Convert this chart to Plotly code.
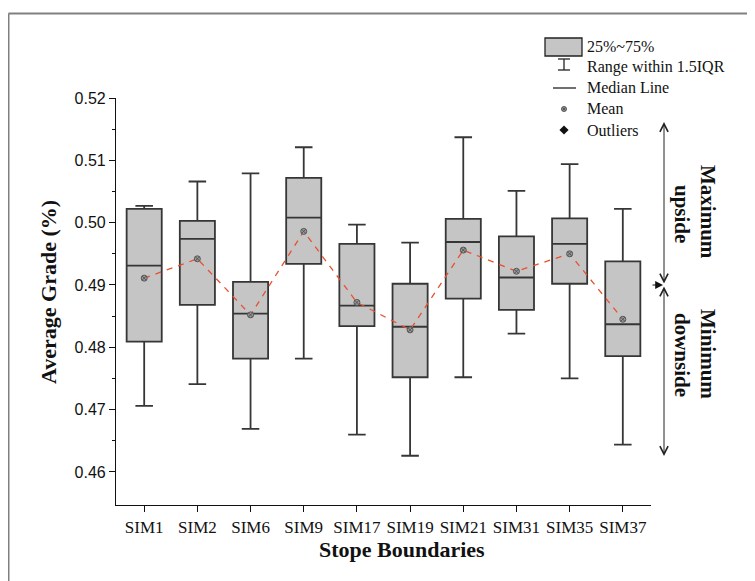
import plotly.graph_objects as go

categories = ["SIM1", "SIM2", "SIM6", "SIM9", "SIM17", "SIM19", "SIM21", "SIM31", "SIM35", "SIM37"]
upper_whisker = [0.5027, 0.5066, 0.5079, 0.5121, 0.4997, 0.4968, 0.5137, 0.5051, 0.5094, 0.5022]
q3_values = [0.5022, 0.5003, 0.4905, 0.5072, 0.4966, 0.4902, 0.5006, 0.4978, 0.5007, 0.4938]
median_values = [0.4931, 0.4974, 0.4854, 0.5008, 0.4867, 0.4833, 0.4969, 0.4912, 0.4966, 0.4837]
mean_values = [0.4911, 0.4942, 0.4852, 0.4986, 0.4872, 0.4828, 0.4956, 0.4922, 0.4950, 0.4845]
q1_values = [0.4809, 0.4868, 0.4782, 0.4934, 0.4834, 0.4752, 0.4878, 0.4860, 0.4902, 0.4786]
lower_whisker = [0.4706, 0.4741, 0.4669, 0.4782, 0.4660, 0.4626, 0.4752, 0.4822, 0.4750, 0.4644]
reference_grade = 0.49
y_ticks = [0.46, 0.47, 0.48, 0.49, 0.50, 0.51, 0.52]

# page offset (browser body margin) and plot area in screen pixels
OFF = 8
L, R, T, B = 116, 651, 98, 505
W, H = 755, 581


def px(x):
    return (x - L) / (R - L)


def py(y):
    return (B - y) / (B - T)


SERIF = "Liberation Serif, Times New Roman, serif"
SANS = "Liberation Sans, Arial, sans-serif"
BOXLINE = "#363636"
BOXFILL = "#c5c5c5"
INK = "#111111"

fig = go.Figure()

fig.add_trace(go.Box(
    x=categories, q1=q1_values, median=median_values, q3=q3_values,
    lowerfence=lower_whisker, upperfence=upper_whisker,
    fillcolor=BOXFILL, line=dict(color=BOXLINE, width=1.8),
    width=0.66, whiskerwidth=0.5, boxpoints=False, showlegend=False,
    hoverinfo="skip",
))

fig.add_trace(go.Scatter(
    x=categories, y=mean_values, mode="lines+markers",
    line=dict(color="#e8502e", width=1.3, dash="6px,6px"),
    marker=dict(symbol="circle-x", size=6, color="#9a9a9a",
                line=dict(color="#555555", width=1)),
    showlegend=False, hoverinfo="skip",
))

# reference line
fig.add_trace(go.Scatter(
    x=[-0.53, 9.53], y=[reference_grade, reference_grade], mode="lines",
    line=dict(color="#555555", width=1.1, dash="7px,5px"),
    showlegend=False, hoverinfo="skip",
))

shapes = []
annotations = []

# outer frame
shapes.append(dict(type="line", xref="paper", yref="paper",
                   x0=px(8.5), x1=px(W + 5), y0=py(13.5), y1=py(13.5),
                   line=dict(color="#808080", width=2)))
shapes.append(dict(type="line", xref="paper", yref="paper",
                   x0=px(8.5), x1=px(8.5), y0=py(13.5), y1=py(H + 5),
                   line=dict(color="#808080", width=2)))

# legend
LW = dict(color="#222222", width=1.3)
shapes.append(dict(type="rect", xref="paper", yref="paper",
                   x0=px(545), x1=px(582), y0=py(38), y1=py(56),
                   fillcolor=BOXFILL, line=LW))
shapes.append(dict(type="line", xref="paper", yref="paper",
                   x0=px(564), x1=px(564), y0=py(59), y1=py(70), line=LW))
shapes.append(dict(type="line", xref="paper", yref="paper",
                   x0=px(558), x1=px(570), y0=py(59), y1=py(59), line=LW))
shapes.append(dict(type="line", xref="paper", yref="paper",
                   x0=px(558), x1=px(570), y0=py(70), y1=py(70), line=LW))
shapes.append(dict(type="line", xref="paper", yref="paper",
                   x0=px(553), x1=px(576), y0=py(88), y1=py(88), line=LW))

fig.add_trace(go.Scatter(
    x=[px(564)], y=[py(109)], xaxis="x2", yaxis="y2", mode="markers",
    marker=dict(symbol="circle-x", size=5, color="#9a9a9a",
                line=dict(color="#555555", width=1)),
    showlegend=False, hoverinfo="skip"))
fig.add_trace(go.Scatter(
    x=[px(564)], y=[py(130)], xaxis="x2", yaxis="y2", mode="markers",
    marker=dict(symbol="diamond", size=7, color=INK),
    showlegend=False, hoverinfo="skip"))

legend_texts = [("25%~75%", 46), ("Range within 1.5IQR", 67), ("Median Line", 88),
                ("Mean", 109), ("Outliers", 130)]
for txt, yy in legend_texts:
    annotations.append(dict(xref="paper", yref="paper", x=px(585), y=py(yy),
                            text=txt, showarrow=False, xanchor="left", yanchor="middle",
                            font=dict(family=SERIF, size=16, color=INK)))

# arrows on the right
AX = 664
annotations.append(dict(xref="paper", yref="paper", x=px(AX), y=py(122),
                        ax=0, ay=285 - 122, text="", showarrow=True,
                        arrowhead=5, startarrowhead=5, arrowside="end+start",
                        arrowsize=1.6, arrowwidth=1, arrowcolor="#222222"))
annotations.append(dict(xref="paper", yref="paper", x=px(AX), y=py(456),
                        ax=0, ay=285 - 456, text="", showarrow=True,
                        arrowhead=5, startarrowhead=5, arrowside="end+start",
                        arrowsize=1.6, arrowwidth=1, arrowcolor="#222222"))
annotations.append(dict(xref="paper", yref="paper", x=px(AX - 1), y=py(285),
                        ax=-12, ay=0, text="", showarrow=True,
                        arrowhead=2, arrowsize=1.3, arrowwidth=1.2, arrowcolor=INK))

for txt, xx, yy in [("Maximum", 708, 212), ("upside", 682, 214),
                    ("Minimum", 708, 354), ("downside", 682, 355)]:
    annotations.append(dict(xref="paper", yref="paper", x=px(xx), y=py(yy),
                            text=f"<b>{txt}</b>", showarrow=False, textangle=90,
                            xanchor="center", yanchor="middle",
                            font=dict(family=SERIF, size=21, color=INK)))

# axis titles
annotations.append(dict(xref="paper", yref="paper", x=px(48), y=py(292),
                        text="<b>Average Grade (%)</b>", showarrow=False, textangle=-90,
                        xanchor="center", yanchor="middle",
                        font=dict(family=SERIF, size=22, color=INK)))
annotations.append(dict(xref="paper", yref="paper", x=px(402), y=py(549),
                        text="<b>Stope Boundaries</b>", showarrow=False,
                        xanchor="center", yanchor="middle",
                        font=dict(family=SERIF, size=22, color=INK)))

fig.update_layout(
    width=W - OFF, height=H - OFF,
    margin=dict(l=L - OFF, r=W - R, t=T - OFF, b=H - B, pad=0),
    paper_bgcolor="white", plot_bgcolor="white",
    showlegend=False,
    shapes=shapes, annotations=annotations,
    xaxis=dict(type="category", range=[-0.53, 9.53], showgrid=False, zeroline=False,
               showline=True, linecolor=INK, linewidth=1.2,
               ticks="outside", ticklen=6, tickwidth=1.2, tickcolor=INK,
               tickfont=dict(family=SERIF, size=17, color=INK)),
    yaxis=dict(range=[0.4547, 0.52], showgrid=False, zeroline=False,
               showline=True, linecolor=INK, linewidth=1.2,
               tickvals=y_ticks, ticktext=[f"{v:.2f}" for v in y_ticks],
               ticks="outside", ticklen=6, tickwidth=1.2, tickcolor=INK,
               minor=dict(ticks="outside", ticklen=3, tickwidth=1, tickcolor=INK,
                          tickvals=[0.465, 0.475, 0.485, 0.495, 0.505, 0.515]),
               tickfont=dict(family=SANS, size=16, color=INK)),
    xaxis2=dict(range=[0, 1], overlaying="x", visible=False, anchor="y2"),
    yaxis2=dict(range=[0, 1], overlaying="y", visible=False, anchor="x2"),
)

fig.write_html("out.html")
